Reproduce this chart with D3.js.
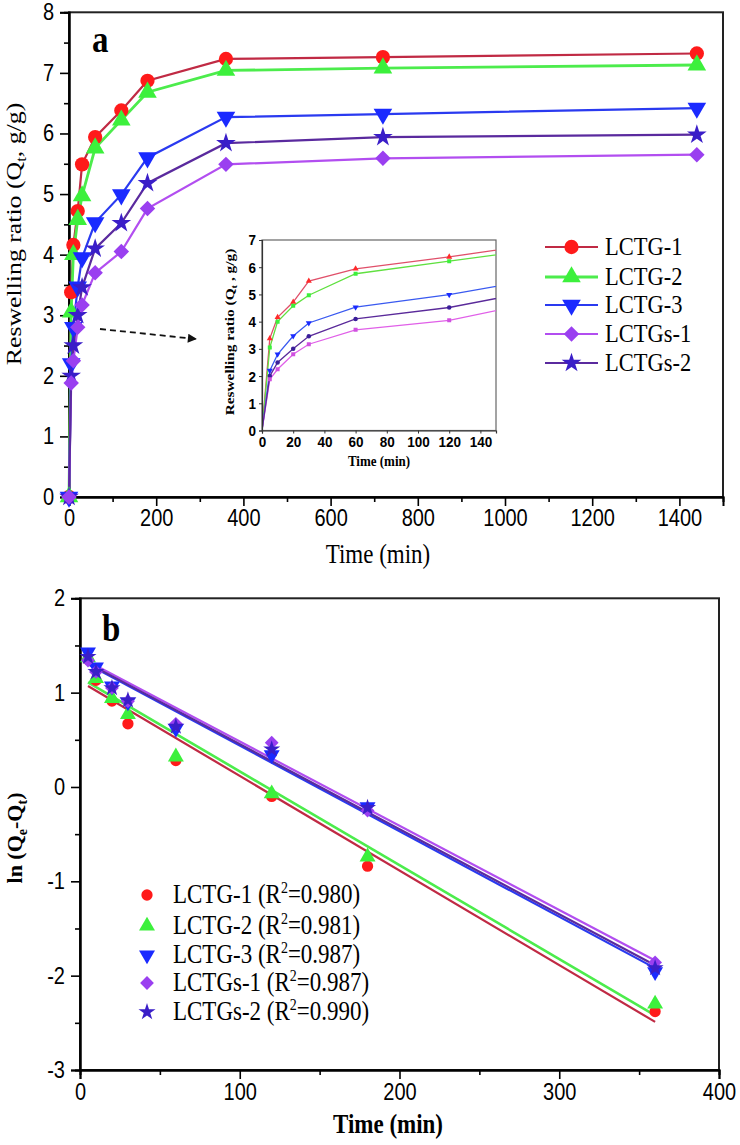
<!DOCTYPE html>
<html><head><meta charset="utf-8">
<script src="https://cdn.jsdelivr.net/npm/d3@7"></script>
<style>html,body{margin:0;padding:0;background:#fff}</style>
</head><body>
<script>
// ---------- DATA ----------
const seriesNames = ["LCTG-1","LCTG-2","LCTG-3","LCTGs-1","LCTGs-2"];
const timesA = [0,5,10,20,30,60,120,180,360,720,1440];
const lctg1A  = [0,3.38,4.16,4.72,5.49,5.94,6.38,6.87,7.23,7.26,7.32];
const lctg2A  = [0,3.05,4.00,4.58,4.97,5.76,6.22,6.68,7.04,7.08,7.13];
const lctg3A  = [0,2.20,2.80,3.47,3.95,4.53,4.99,5.60,6.27,6.32,6.42];
const lctgs1A = [0,1.88,2.25,2.80,3.17,3.70,4.05,4.76,5.49,5.59,5.65];
const lctgs2A = [0,2.00,2.50,3.00,3.46,4.10,4.52,5.18,5.84,5.94,5.98];

const timesB = [5,10,20,30,60,120,180,360];
const lctg1B  = [1.35,1.13,0.91,0.67,0.28,-0.10,-0.84,-2.38];
const lctg2B  = [1.37,1.15,0.94,0.77,0.32,-0.07,-0.74,-2.30];
const lctg3B  = [1.43,1.27,1.07,0.90,0.62,0.34,-0.21,-1.96];
const lctgs1B = [1.34,1.22,1.05,0.91,0.67,0.47,-0.25,-1.86];
const lctgs2B = [1.38,1.22,1.05,0.92,0.64,0.40,-0.22,-1.92];
const fitT = [5,360];
const fit1  = [1.07,-2.49];
const fit2  = [1.11,-2.42];
const fit3  = [1.30,-1.92];
const fits1 = [1.33,-1.84];
const fits2 = [1.31,-1.89];
const r2 = ["0.980","0.981","0.987","0.987","0.990"];

const ticksAx = [0,200,400,600,800,1000,1200,1400];
const ticksAy = [0,1,2,3,4,5,6,7,8];
const ticksInsetX = [0,20,40,60,80,100,120,140];
const ticksInsetY = [0,1,2,3,4,5,6,7];
const ticksBx = [0,100,200,300,400];
const ticksBy = [-3,-2,-1,0,1,2];

// ---------- STYLE ----------
const markerCol = ["#ff1a1a","#3cf03c","#1a2aff","#9a3ff0","#3a1ec8"];
const lineCol   = ["#c02a44","#4cec4c","#2a3af0","#b24ef0","#5a2a9e"];
const insetCol  = ["#e0506a","#60e040","#3a5af0","#e060e8","#5a2a9a"];
const symTypes  = [d3.symbolCircle, d3.symbolTriangle, d3.symbolTriangle, d3.symbolSquare, d3.symbolStar];
const symRot    = [0,0,180,45,0];
const symSizeA  = [160,150,150,120,120];
const SY = 1.15; // vertical stretch of the reference's lettering

const seriesA = [lctg1A,lctg2A,lctg3A,lctgs1A,lctgs2A];
const seriesB = [lctg1B,lctg2B,lctg3B,lctgs1B,lctgs2B];
const fits = [fit1,fit2,fit3,fits1,fits2];

const W=740,H=1145;
const svg = d3.select("body").append("svg").attr("width",W).attr("height",H)
  .style("font-family","'Liberation Sans',Arial,sans-serif");
const defs = svg.append("defs");
const serif = "'Liberation Serif','Times New Roman',serif";
const fmt = d => String(d);

function marker(g, i, x, y, size){
  g.append("path")
   .attr("d", d3.symbol().type(symTypes[i]).size(size)())
   .attr("transform", `translate(${x},${y}) rotate(${symRot[i]})`)
   .attr("fill", markerCol[i]);
}
function stretch(sel, sy){
  sel.each(function(){
    const t = d3.select(this);
    const x = +t.attr("x")||0, y = +t.attr("y")||0;
    t.attr("x",0).attr("y",0).attr("transform",`translate(${x},${y}) scale(1,${sy})`);
  });
}
function axisStyle(g, fs){
  g.selectAll(".domain").attr("stroke","#000").attr("stroke-width",2);
  g.selectAll(".tick line").attr("stroke","#000").attr("stroke-width",1.6);
  g.selectAll(".tick text").attr("fill","#000").style("font-size",fs+"px")
   .style("font-family","'Liberation Sans',Arial,sans-serif");
  stretch(g.selectAll(".tick text"), SY);
}
function hText(g, x, y, fs, anchor, weight){
  return g.append("text").attr("transform",`translate(${x},${y}) scale(1,${SY})`)
    .attr("text-anchor",anchor).style("font-family",serif).style("font-size",fs+"px")
    .style("font-weight",weight||"normal");
}

// ================= PANEL A =================
const xA = d3.scaleLinear().domain([0,1500]).range([69,723]);
const yA = d3.scaleLinear().domain([0,8]).range([497,12.3]);
const gA = svg.append("g");
gA.append("rect").attr("x",xA(0)).attr("y",yA(8)).attr("width",xA(1500)-xA(0)).attr("height",yA(0)-yA(8))
  .attr("fill","none").attr("stroke","#222").attr("stroke-width",2);
axisStyle(gA.append("g").attr("transform",`translate(0,${yA(0)})`)
  .call(d3.axisBottom(xA).tickValues(d3.range(100,1500,200)).tickSize(5).tickFormat("")),18);
axisStyle(gA.append("g").attr("transform",`translate(${xA(0)},0)`)
  .call(d3.axisLeft(yA).tickValues(d3.range(0.5,8,1)).tickSize(5).tickFormat("")),18);
axisStyle(gA.append("g").attr("transform",`translate(0,${yA(0)})`)
  .call(d3.axisBottom(xA).tickValues(ticksAx).tickSize(9).tickPadding(4).tickFormat(fmt)),20);
axisStyle(gA.append("g").attr("transform",`translate(${xA(0)},0)`)
  .call(d3.axisLeft(yA).tickValues(ticksAy).tickSize(9).tickPadding(6).tickFormat(fmt)),20);

seriesA.forEach((vals,i)=>{
  const pts = timesA.map((t,k)=>[t,vals[k]]);
  gA.append("path").datum(pts)
    .attr("d", d3.line().x(d=>xA(d[0])).y(d=>yA(d[1])))
    .attr("fill","none").attr("stroke",lineCol[i]).attr("stroke-width",i===1?2.8:2.2);
});
[0,1,2,4,3].forEach(i=>{
  timesA.forEach((t,k)=> marker(gA,i,xA(t),yA(seriesA[i][k]),symSizeA[i]));
});

hText(gA,92,52,33,"start","bold").text("a");
hText(gA,378,563,23,"middle").text("Time (min)");
const yt = gA.append("text").attr("transform",`translate(21,234) rotate(-90) scale(1.2,1)`).attr("text-anchor","middle")
  .style("font-family",serif).style("font-size","21.5px");
yt.append("tspan").text("Reswelling ratio (Q");
yt.append("tspan").text("t").attr("dy",5).style("font-size","14px");
yt.append("tspan").text(", g/g)").attr("dy",-5);

// legend A
const legA = gA.append("g");
const legY = [247,277,305,334,363];
seriesNames.forEach((n,i)=>{
  legA.append("line").attr("x1",545).attr("x2",598).attr("y1",legY[i]).attr("y2",legY[i])
    .attr("stroke",lineCol[i]).attr("stroke-width",i===1?2.8:2.2);
  marker(legA,i,571.5,legY[i],symSizeA[i]);
  hText(legA,605,legY[i]+8,22.5,"start").text(n);
});

// dashed arrow
defs.append("marker").attr("id","ah").attr("viewBox","0 0 10 10")
  .attr("refX",9).attr("refY",5).attr("markerWidth",14).attr("markerHeight",9)
  .attr("markerUnits","userSpaceOnUse").attr("orient","auto")
  .append("path").attr("d","M0,0 L10,5 L0,10 Z").attr("fill","#111");
gA.append("line").attr("x1",100).attr("y1",329).attr("x2",196).attr("y2",339)
  .attr("stroke","#111").attr("stroke-width",1.8).attr("stroke-dasharray","6,4")
  .attr("marker-end","url(#ah)");

// ================= INSET =================
const xI = d3.scaleLinear().domain([0,150]).range([262,496]);
const yI = d3.scaleLinear().domain([0,7]).range([430.5,240]);
const gI = svg.append("g");
gI.append("rect").attr("x",xI(0)).attr("y",yI(7)).attr("width",xI(150)-xI(0)).attr("height",yI(0)-yI(7))
  .attr("fill","#fff").attr("stroke","#666").attr("stroke-width",1.2);
defs.append("clipPath").attr("id","clipI").append("rect")
  .attr("x",xI(0)).attr("y",yI(7)).attr("width",xI(150)-xI(0)).attr("height",yI(0)-yI(7));
const gIc = gI.append("g").attr("clip-path","url(#clipI)");
const insetSym = [d3.symbolTriangle,d3.symbolSquare,d3.symbolTriangle,d3.symbolSquare,d3.symbolCircle];
const insetRot = [0,0,180,0,0];
const insetFill = ["#ff2a2a","#3cf03c","#1a2aff","#d050e0","#3a1e9a"];
seriesA.forEach((vals,i)=>{
  const pts = timesA.map((t,k)=>[t,vals[k]]);
  gIc.append("path").datum(pts)
    .attr("d", d3.line().x(d=>xI(d[0])).y(d=>yI(d[1])))
    .attr("fill","none").attr("stroke",insetCol[i]).attr("stroke-width",1.3);
});
[0,1,2,4,3].forEach(i=>{
  seriesA[i].forEach((v,k)=>{
    if(timesA[k]>150||timesA[k]===0) return;
    gIc.append("path").attr("d",d3.symbol().type(insetSym[i]).size(16)())
      .attr("transform",`translate(${xI(timesA[k])},${yI(v)}) rotate(${insetRot[i]})`)
      .attr("fill", insetFill[i]);
  });
});
const gIx = gI.append("g").attr("transform",`translate(0,${yI(0)})`)
  .call(d3.axisBottom(xI).tickValues(ticksInsetX).tickSize(3).tickPadding(2).tickFormat(fmt));
const gIy = gI.append("g").attr("transform",`translate(${xI(0)},0)`)
  .call(d3.axisLeft(yI).tickValues(ticksInsetY).tickSize(3).tickPadding(3).tickFormat(fmt));
[gIx,gIy].forEach(g=>{
  g.selectAll(".domain").attr("stroke","#333").attr("stroke-width",1.2);
  g.selectAll(".tick line").attr("stroke","#333");
  g.selectAll(".tick text").attr("fill","#000").style("font-size","13.5px").style("font-weight","bold");
  stretch(g.selectAll(".tick text"), SY);
});
hText(gI,379,466,13,"middle","bold").text("Time (min)");
const yti = gI.append("text").attr("transform",`translate(234,332) rotate(-90) scale(1.18,1)`).attr("text-anchor","middle")
  .style("font-family",serif).style("font-weight","bold").style("font-size","13px");
yti.append("tspan").text("Reswelling ratio (Q");
yti.append("tspan").text("t").attr("dy",3).style("font-size","9px");
yti.append("tspan").text(" , g/g)").attr("dy",-3);

// ================= PANEL B =================
const xB = d3.scaleLinear().domain([0,400]).range([80,719]);
const yB = d3.scaleLinear().domain([-3,2]).range([1070,598.3]);
const gB = svg.append("g");
gB.append("rect").attr("x",xB(0)).attr("y",yB(2)).attr("width",xB(400)-xB(0)).attr("height",yB(-3)-yB(2))
  .attr("fill","none").attr("stroke","#222").attr("stroke-width",2);
axisStyle(gB.append("g").attr("transform",`translate(0,${yB(-3)})`)
  .call(d3.axisBottom(xB).tickValues([50,150,250,350]).tickSize(5).tickFormat("")),18);
axisStyle(gB.append("g").attr("transform",`translate(${xB(0)},0)`)
  .call(d3.axisLeft(yB).tickValues([-2.5,-1.5,-0.5,0.5,1.5]).tickSize(5).tickFormat("")),18);
axisStyle(gB.append("g").attr("transform",`translate(0,${yB(-3)})`)
  .call(d3.axisBottom(xB).tickValues(ticksBx).tickSize(9).tickPadding(5).tickFormat(fmt)),20);
axisStyle(gB.append("g").attr("transform",`translate(${xB(0)},0)`)
  .call(d3.axisLeft(yB).tickValues(ticksBy).tickSize(9).tickPadding(6).tickFormat(fmt)),20);

fits.forEach((f,i)=>{
  const pts = fitT.map((t,k)=>[t,f[k]]);
  gB.append("path").datum(pts)
    .attr("d", d3.line().x(d=>xB(d[0])).y(d=>yB(d[1])))
    .attr("fill","none").attr("stroke",lineCol[i]).attr("stroke-width",i===1?2.6:2.2);
});
const symSizeB = [100,110,110,95,90];
[0,1,2,3,4].forEach(i=>{
  seriesB[i].forEach((v,k)=> marker(gB,i,xB(timesB[k]),yB(v),symSizeB[i]));
});

hText(gB,102,641,33,"start","bold").text("b");
hText(gB,388,1133,23,"middle","bold").text("Time (min)");
const ytb = gB.append("text").attr("transform",`translate(22,838) rotate(-90)`).attr("text-anchor","middle")
  .style("font-family",serif).style("font-weight","bold").style("font-size","22px");
ytb.append("tspan").text("ln (Q");
ytb.append("tspan").text("e").attr("dy",5).style("font-size","14px");
ytb.append("tspan").text("-Q").attr("dy",-5);
ytb.append("tspan").text("t").attr("dy",5).style("font-size","14px");
ytb.append("tspan").text(")").attr("dy",-5);

// legend B
const legBY = [895,926,955,983,1012];
seriesNames.forEach((n,i)=>{
  marker(gB,i,147,legBY[i],symSizeB[i]);
  const t = hText(gB,173,legBY[i]+8,23,"start");
  t.append("tspan").text(n+" (R");
  t.append("tspan").text("2").attr("dy",-9).style("font-size","14px");
  t.append("tspan").text("="+r2[i]+")").attr("dy",9);
});
</script>
</body></html>
